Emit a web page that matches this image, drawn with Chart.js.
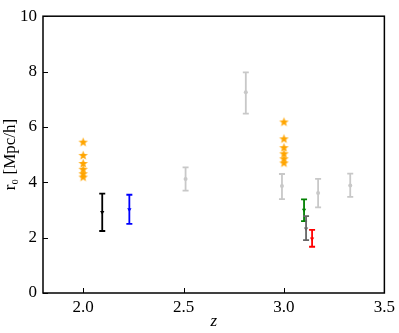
<!DOCTYPE html>
<html>
<head>
<meta charset="utf-8">
<script src="https://cdn.jsdelivr.net/npm/chart.js@4"></script>
<style>
  html, body { margin: 0; padding: 0; background: #fff; }
  #wrap { width: 399px; height: 333px; }
</style>
</head>
<body>
<div id="wrap"><canvas id="chart"></canvas></div>
<script>
// x ticks / y ticks
const xTicks = [2.0, 2.5, 3.0, 3.5];
const yTicks = [0, 2, 4, 6, 8, 10];

// orange stars
const starZ2 = [2.0, 2.0, 2.0, 2.0, 2.0, 2.0];
const starR2 = [5.45, 4.97, 4.68, 4.47, 4.31, 4.19];
const starZ3 = [3.0, 3.0, 3.0, 3.0, 3.0, 3.0];
const starR3 = [6.18, 5.57, 5.25, 5.03, 4.85, 4.70];

// light grey points with errors
const greyZ = [2.51, 2.81, 2.99, 3.17, 3.33];
const greyR = [4.12, 7.25, 3.87, 3.61, 3.88];
const greyLo = [0.42, 0.77, 0.48, 0.52, 0.41];
const greyHi = [0.42, 0.72, 0.43, 0.51, 0.43];

// coloured points with errors
const blackZ = [2.095], blackR = [2.92], blackLo = [0.68], blackHi = [0.67];
const blueZ = [2.23], blueR = [3.02], blueLo = [0.52], blueHi = [0.53];
const greenZ = [3.10], greenR = [3.0], greenLo = [0.40], greenHi = [0.38];
const dimZ = [3.11], dimR = [2.32], dimLo = [0.41], dimHi = [0.46];
const redZ = [3.14], redR = [1.96], redLo = [0.29], redHi = [0.32];

function pts(xs, ys) {
    return xs.map((x, i) => ({ x: x, y: ys[i] }));
}

// filled star marker
function makeStar(color) {
    const c = document.createElement('canvas');
    c.width = 11; c.height = 11;
    const g = c.getContext('2d');
    g.beginPath();
    for (let i = 0; i < 10; i++) {
        const r = i % 2 === 0 ? 5 : 2.1;
        const a = -Math.PI / 2 + i * Math.PI / 5;
        const px = 5.5 + r * Math.cos(a), py = 5.7 + r * Math.sin(a);
        if (i === 0) g.moveTo(px, py); else g.lineTo(px, py);
    }
    g.closePath();
    g.fillStyle = color;
    g.fill();
    return c;
}
const star = makeStar('#ffa500');

function errSet(xs, ys, lo, hi, color, style, radius) {
    return {
        data: pts(xs, ys),
        errLo: lo,
        errHi: hi,
        errColor: color,
        backgroundColor: color,
        borderColor: color,
        pointStyle: style,
        pointRadius: radius,
        rotation: style === 'triangle' ? 180 : 0,
        borderWidth: 0,
        showLine: false
    };
}

const errorBars = {
    id: 'errorBars',
    beforeDatasetsDraw(chart) {
        const ctx = chart.ctx;
        const xs = chart.scales.x, ys = chart.scales.y;
        ctx.save();
        chart.data.datasets.forEach(ds => {
            if (!ds.errLo) return;
            ctx.strokeStyle = ds.errColor;
            ctx.lineWidth = 1.8;
            ds.data.forEach((p, i) => {
                const px = xs.getPixelForValue(p.x);
                const top = ys.getPixelForValue(p.y + ds.errHi[i]);
                const bot = ys.getPixelForValue(p.y - ds.errLo[i]);
                ctx.beginPath();
                ctx.moveTo(px, top); ctx.lineTo(px, bot);
                ctx.moveTo(px - 3, top); ctx.lineTo(px + 3, top);
                ctx.moveTo(px - 3, bot); ctx.lineTo(px + 3, bot);
                ctx.stroke();
            });
        });
        ctx.restore();
    },
    afterDraw(chart) {
        const ctx = chart.ctx;
        const a = chart.chartArea;
        const xs = chart.scales.x, ys = chart.scales.y;
        ctx.save();
        ctx.strokeStyle = '#000';
        ctx.lineWidth = 1.5;
        ctx.strokeRect(a.left, a.top, a.right - a.left, a.bottom - a.top);
        ctx.lineWidth = 1;
        ctx.beginPath();
        xTicks.forEach(t => {
            const px = Math.round(xs.getPixelForValue(t)) + 0.5;
            ctx.moveTo(px, a.bottom); ctx.lineTo(px, a.bottom - 5);
        });
        yTicks.forEach(t => {
            const py = Math.round(ys.getPixelForValue(t)) + 0.5;
            ctx.moveTo(a.left, py); ctx.lineTo(a.left + 5, py);
        });
        ctx.stroke();
        ctx.restore();
    }
};

const serif = "'Liberation Serif', 'DejaVu Serif', serif";

new Chart(document.getElementById('chart'), {
    type: 'scatter',
    data: {
        datasets: [
            errSet(greyZ, greyR, greyLo, greyHi, '#c8c8c8', 'circle', 2),
            errSet(blackZ, blackR, blackLo, blackHi, '#000000', 'triangle', 2.5),
            errSet(blueZ, blueR, blueLo, blueHi, '#0000ff', 'triangle', 2.5),
            errSet(greenZ, greenR, greenLo, greenHi, '#008000', 'triangle', 2.5),
            errSet(dimZ, dimR, dimLo, dimHi, '#666666', 'triangle', 2.5),
            errSet(redZ, redR, redLo, redHi, '#ff0000', 'triangle', 2.5),
            { data: pts(starZ2, starR2), pointStyle: star, pointRadius: 5 },
            { data: pts(starZ3, starR3), pointStyle: star, pointRadius: 5 }
        ]
    },
    options: {
        responsive: true,
        maintainAspectRatio: false,
        animation: false,
        layout: { padding: { top: 6, right: 12, left: 0, bottom: 0 } },
        plugins: { legend: { display: false }, tooltip: { enabled: false } },
        scales: {
            x: {
                type: 'linear',
                min: 1.8,
                max: 3.5,
                afterFit: s => { s.height = 40; },
                afterBuildTicks: s => { s.ticks = xTicks.map(v => ({ value: v })); },
                grid: { display: false, drawTicks: false },
                border: { display: false },
                ticks: {
                    padding: 4,
                    color: '#000',
                    font: { family: serif, size: 17 },
                    callback: v => v.toFixed(1)
                },
                title: {
                    display: true,
                    text: 'z',
                    color: '#000',
                    font: { family: serif, size: 17, style: 'italic' },
                    padding: { top: 0, bottom: 1 }
                }
            },
            y: {
                min: 0,
                max: 10,
                afterFit: s => { s.width = 43; },
                afterBuildTicks: s => { s.ticks = yTicks.map(v => ({ value: v })); },
                grid: { display: false, drawTicks: false },
                border: { display: false },
                ticks: {
                    padding: 6,
                    color: '#000',
                    font: { family: serif, size: 17 }
                },
                title: {
                    display: true,
                    text: 'r₀ [Mpc/h]',
                    color: '#000',
                    font: { family: serif, size: 17 },
                    padding: { top: 0, bottom: 0 }
                }
            }
        }
    },
    plugins: [errorBars]
});
</script>
</body>
</html>
